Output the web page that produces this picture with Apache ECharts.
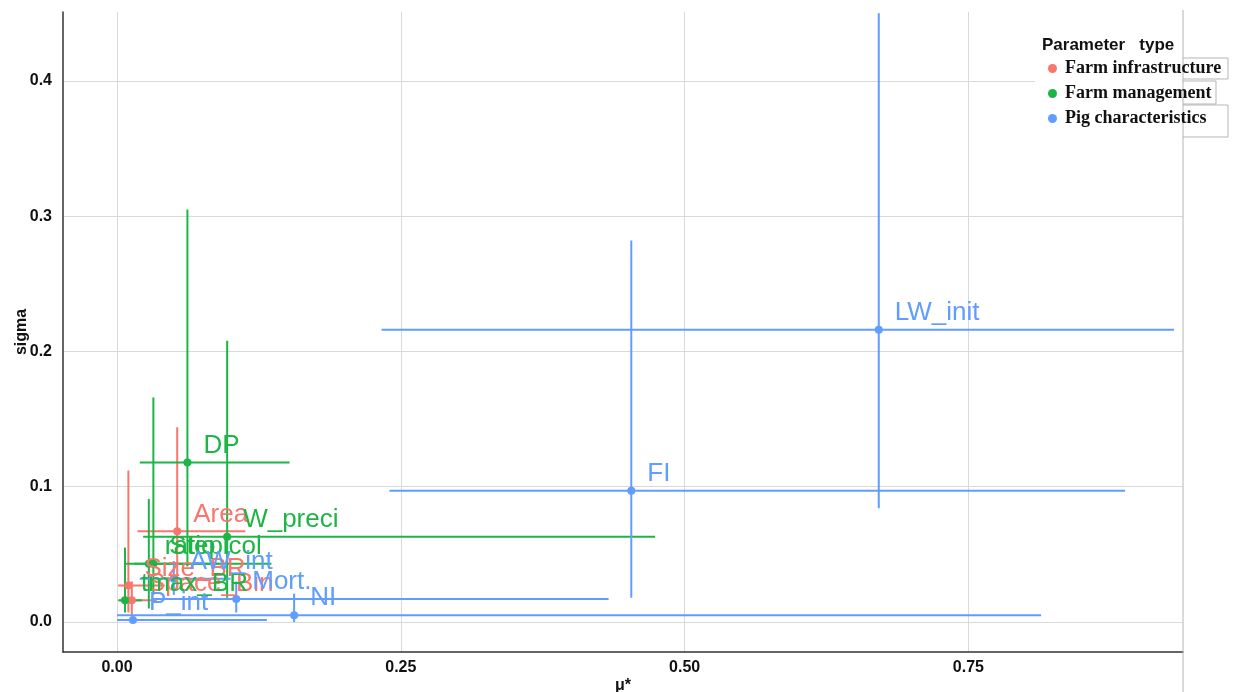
<!DOCTYPE html>
<html>
<head>
<meta charset="utf-8">
<script src="https://cdn.jsdelivr.net/npm/echarts@6/dist/echarts.min.js"></script>
<style>
html,body{margin:0;padding:0;background:#fff;}
#chart{width:1235px;height:692px;}
</style>
</head>
<body>
<div id="chart"></div>
<script>
// ---- data ----
const groups = ['Farm infrastructure', 'Farm management', 'Pig characteristics'];
const groupColors = ['#F8766D', '#1DB545', '#619CFF'];

const names    = ['Area', 'Size_BR', 'Space_Bin',
                  'DP', 'W_preci', 'ratio', 'Stepicol', 'tmax_BR',
                  'LW_init', 'FI', 'NI', 'Mort.', 'P_int', 'AW_int'];
const groupOf  = [0, 0, 0,
                  1, 1, 1, 1, 1,
                  2, 2, 2, 2, 2, 2];
const mu       = [0.053, 0.010, 0.013,
                  0.062, 0.097, 0.028, 0.032, 0.007,
                  0.671, 0.453, 0.156, 0.105, 0.014, 0.050];
const sigma    = [0.067, 0.027, 0.016,
                  0.118, 0.063, 0.043, 0.043, 0.016,
                  0.216, 0.097, 0.005, 0.017, 0.0015, 0.032];
const muLow    = [0.018, 0.001, 0.002,
                  0.020, 0.023, 0.007, 0.015, 0.001,
                  0.233, 0.240, 0.000, 0.030, 0.000, 0.020];
const muHigh   = [0.113, 0.042, 0.035,
                  0.152, 0.474, 0.136, 0.090, 0.022,
                  0.931, 0.888, 0.814, 0.433, 0.132, 0.100];
const sigmaLow = [0.030, 0.007, 0.005,
                  0.041, 0.018, 0.010, 0.020, 0.007,
                  0.084, 0.018, 0.000, 0.007, 0.000, 0.020];
const sigmaHigh= [0.144, 0.112, 0.030,
                  0.305, 0.208, 0.091, 0.166, 0.055,
                  0.450, 0.282, 0.021, 0.030, 0.005, 0.045];

const xTicks = [0, 0.25, 0.5, 0.75];
const yTicks = [0, 0.1, 0.2, 0.3, 0.4];

// ---- chart ----
const chart = echarts.init(document.getElementById('chart'), null, {renderer: 'canvas'});

function renderItem(params, api) {
  const m = api.value(0), s = api.value(1);
  const p = api.coord([m, s]);
  const h0 = api.coord([api.value(2), s]), h1 = api.coord([api.value(3), s]);
  const v0 = api.coord([m, api.value(4)]), v1 = api.coord([m, api.value(5)]);
  const color = api.visual('color');
  const idx = api.value(6);
  return {
    type: 'group',
    children: [
      {type: 'line', shape: {x1: h0[0], y1: h0[1], x2: h1[0], y2: h1[1]}, style: {stroke: color, lineWidth: 2}},
      {type: 'line', shape: {x1: v0[0], y1: v0[1], x2: v1[0], y2: v1[1]}, style: {stroke: color, lineWidth: 2}},
      {type: 'circle', shape: {cx: p[0], cy: p[1], r: 4}, style: {fill: color}, z2: 50},
      {type: 'text', x: p[0] + 16, y: p[1] - 17, z2: 100,
        style: {text: names[idx], fill: color, font: '26px "Liberation Sans", Arial, sans-serif',
                verticalAlign: 'middle', align: 'left'}}
    ]
  };
}

const series = groups.map((g, gi) => {
  const data = [];
  names.forEach((n, i) => {
    if (groupOf[i] === gi) {
      data.push([mu[i], sigma[i], muLow[i], muHigh[i], sigmaLow[i], sigmaHigh[i], i]);
    }
  });
  return {
    name: g,
    type: 'custom',
    renderItem: renderItem,
    itemStyle: {color: groupColors[gi]},
    encode: {x: 0, y: 1},
    clip: true,
    data: data
  };
});

const option = {
  backgroundColor: '#fff',
  animation: false,
  grid: {left: 63, right: 52, top: 12, bottom: 40, containLabel: false, outerBoundsMode: 'none'},
  xAxis: {
    type: 'value', min: -0.0476, max: 0.939,
    name: 'μ*', nameLocation: 'middle', nameGap: 26, nameMoveOverlap: false,
    nameTextStyle: {fontFamily: '"Liberation Sans", Arial', fontWeight: 'bold', fontSize: 16, color: '#111'},
    axisLine: {show: true, onZero: false, lineStyle: {color: '#333', width: 1.5}},
    axisTick: {show: false, customValues: xTicks},
    axisLabel: {customValues: xTicks, margin: 8, fontFamily: '"Liberation Sans", Arial', fontWeight: 'bold',
                fontSize: 16, color: '#111', formatter: v => v.toFixed(2)},
    splitLine: {show: true, lineStyle: {color: '#d9d9d9', width: 1}}
  },
  yAxis: {
    type: 'value', min: -0.0222, max: 0.451,
    name: 'sigma', nameLocation: 'middle', nameGap: 33, nameRotate: 90, nameMoveOverlap: false,
    nameTextStyle: {fontFamily: '"Liberation Sans", Arial', fontWeight: 'bold', fontSize: 16, color: '#111'},
    axisLine: {show: true, onZero: false, lineStyle: {color: '#333', width: 1.5}},
    axisTick: {show: false, customValues: yTicks},
    axisLabel: {customValues: yTicks, margin: 11, fontFamily: '"Liberation Sans", Arial', fontWeight: 'bold',
                fontSize: 16, color: '#111', formatter: v => v.toFixed(1)},
    splitLine: {show: true, lineStyle: {color: '#d9d9d9', width: 1}}
  },
  legend: {
    orient: 'vertical', left: 1048, top: 59, itemWidth: 9, itemHeight: 9, itemGap: 6, icon: 'circle',
    padding: 0, z: 6,
    textStyle: {fontFamily: '"Liberation Serif", "Times New Roman", serif', fontWeight: 'bold', fontSize: 18,
                color: '#111', lineHeight: 19, padding: [0, 0, 0, 3]},
    data: groups
  },
  graphic: [
    {type: 'rect', z: 1, shape: {x: 1035, y: 26, width: 147, height: 112}, style: {fill: '#fff'}},
    {type: 'text', z: 7, x: 1042, y: 45,
      style: {text: 'Parameter   type', font: 'bold 17px "Liberation Sans", Arial', fill: '#111', verticalAlign: 'middle'}},
    {type: 'line', z: 5, shape: {x1: 1183, y1: 10, x2: 1183, y2: 692}, style: {stroke: '#b5b5b5', lineWidth: 1}},
    {type: 'polyline', z: 5, shape: {points: [[1183, 58], [1228, 58], [1228, 79], [1183, 79]]},
      style: {stroke: '#b5b5b5', lineWidth: 1, fill: null}},
    {type: 'polyline', z: 5, shape: {points: [[1183, 81], [1216, 81], [1216, 104], [1183, 104]]},
      style: {stroke: '#b5b5b5', lineWidth: 1, fill: null}},
    {type: 'polyline', z: 5, shape: {points: [[1183, 105], [1228, 105], [1228, 137], [1183, 137]]},
      style: {stroke: '#b5b5b5', lineWidth: 1, fill: null}}
  ],
  series: series
};

chart.setOption(option);
</script>
</body>
</html>
